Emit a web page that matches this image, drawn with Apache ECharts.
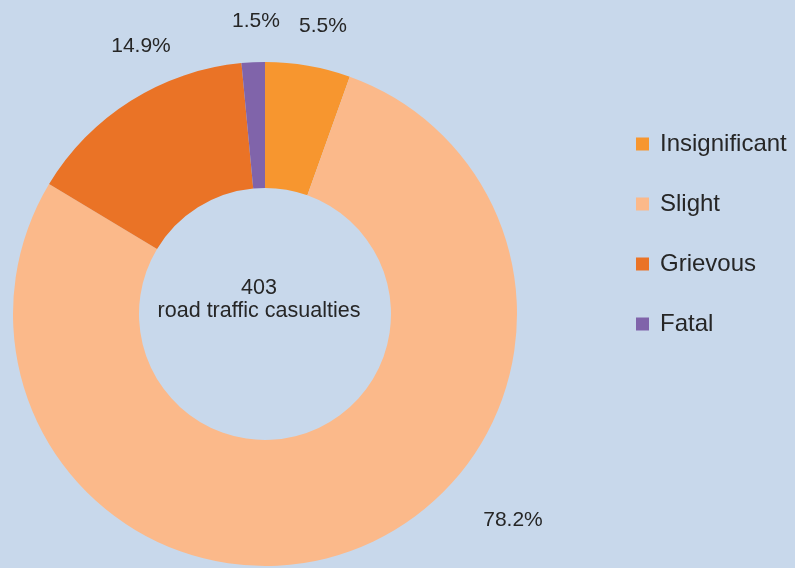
<!DOCTYPE html>
<html>
<head>
<meta charset="utf-8">
<script src="https://cdn.jsdelivr.net/npm/echarts@6/dist/echarts.min.js"></script>
<style>
  html, body { margin: 0; padding: 0; background: #c8d8eb; }
  #chart { width: 795px; height: 568px; }
</style>
</head>
<body>
<div id="chart"></div>
<script>
  // casualty counts by severity (403 total)
  const categories = ['Insignificant', 'Slight', 'Grievous', 'Fatal']
  const counts = [22, 315, 60, 6]
  const percentLabels = ['5.5%', '78.2%', '14.9%', '1.5%']
  const colors = ['#f7962f', '#fbb98a', '#ea7326', '#8064aa']
  const total = 403

  // where the percent labels sit, by slice
  const labelSpots = [[323, 26], [513, 520], [141, 46], [256, 21]]

  const chart = echarts.init(document.getElementById('chart'))
  const option = {
    backgroundColor: '#c8d8eb',
    color: colors,
    textStyle: { fontFamily: 'Liberation Sans, Arial, sans-serif' },
    legend: {
      orient: 'vertical',
      left: 636,
      top: 132,
      padding: 0,
      itemWidth: 13,
      itemHeight: 13,
      itemGap: 36,
      icon: 'rect',
      data: categories,
      textStyle: {
        fontSize: 24,
        lineHeight: 24,
        color: '#262626',
        padding: [0, 0, 0, 6]
      }
    },
    graphic: [{
      type: 'text',
      x: 259,
      y: 300,
      style: {
        text: total + '\nroad traffic casualties',
        align: 'center',
        verticalAlign: 'middle',
        fontSize: 21.5,
        lineHeight: 23,
        fill: '#262626',
        fontFamily: 'Liberation Sans, Arial, sans-serif'
      }
    }],
    series: [{
      type: 'pie',
      center: [265, 314],
      radius: [126, 252],
      startAngle: 90,
      clockwise: true,
      silent: true,
      data: categories.map((c, i) => ({ name: c, value: counts[i] })),
      label: {
        show: true,
        position: 'outside',
        formatter: p => percentLabels[p.dataIndex],
        fontSize: 21,
        color: '#262626'
      },
      labelLine: { show: false },
      labelLayout: function (params) {
        const s = labelSpots[params.dataIndex]
        return { x: s[0], y: s[1], align: 'center', verticalAlign: 'middle' }
      }
    }]
  }
  chart.setOption(option)
  window.addEventListener('resize', function () {
    chart.resize()
  })
</script>
</body>
</html>
